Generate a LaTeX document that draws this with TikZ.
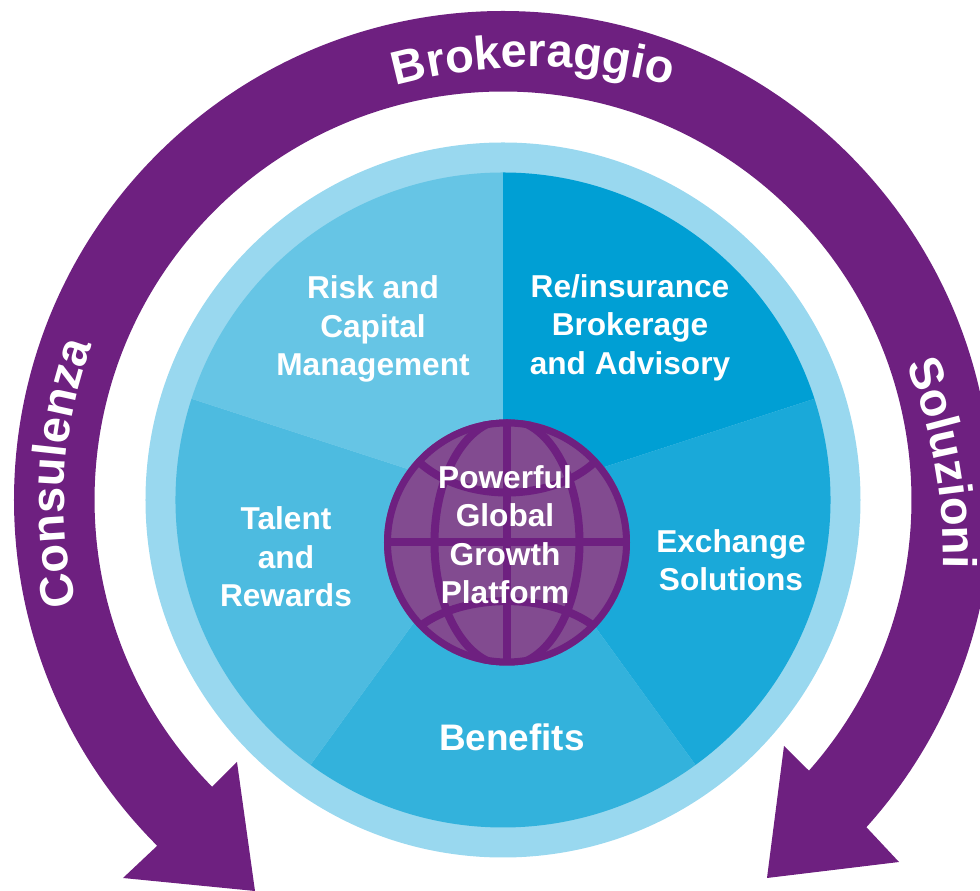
\documentclass[tikz,border=0pt]{standalone}
\usepackage{fontspec}
\setmainfont{Liberation Sans}
\usetikzlibrary{decorations.text}
\definecolor{archue}{HTML}{6E2080}
\definecolor{globehue}{HTML}{824B90}
\definecolor{ringhue}{HTML}{99D8EF}
\definecolor{bluea}{HTML}{009FD4}
\definecolor{blueb}{HTML}{1AA9D9}
\definecolor{bluec}{HTML}{33B2DC}
\definecolor{blued}{HTML}{4DBBE0}
\definecolor{bluee}{HTML}{66C5E5}
\tikzset{
  seglabel/.style={text=white,align=center,font=\bfseries\fontsize{18}{21.9}\selectfont},
  gridline/.style={archue,line width=0.16cm},
  bandtext/.style={decorate,decoration={text along path,text align=center,text={|\bfseries\fontsize{26.8}{30}\selectfont\color{white}|#1}}}
}
\begin{document}
\begin{tikzpicture}
\useasboundingbox (-10.06,-7.82) rectangle (9.54,10);
\clip (-10.06,-7.82) rectangle (9.54,10);
% outer arrow
\fill[archue] (225:9.78) arc[start angle=225,end angle=-42,radius=9.78]
  -- (7.92,-7.24) -- (5.28,-7.56) -- (5.62,-4.92)
  -- (-41.5:8.17) arc[start angle=-41.5,end angle=224.6,radius=8.17]
  -- (-5.32,-5.24) -- (-4.96,-7.82) -- (-7.6,-7.56) -- cycle;
\path[bandtext=Brokeraggio,shift={(0.6,-1.64)}] (107:10.3) arc[start angle=107,end angle=73,radius=10.3];
\path[bandtext=Consulenza] (198:8.78) arc[start angle=198,end angle=155,radius=8.78];
\path[bandtext=Soluzioni,shift={(-1.25,-1.1)}] (24.6:10.06) arc[start angle=24.6,end angle=-3.9,radius=10.06];
% pie
\fill[ringhue] (0,0) circle (7.15);
\foreach \a/\b/\c in {90/18/bluea,18/-54/blueb,-54/-126/bluec,-126/-198/blued,-198/-270/bluee}
  \fill[\c] (0,0) -- (\a:6.55) arc[start angle=\a,end angle=\b,radius=6.55] -- cycle;
% globe
\begin{scope}[shift={(0.08,-0.85)}]
  \fill[globehue] (0,0) circle (2.46);
  \begin{scope}
    \clip (0,0) circle (2.46);
    \draw[gridline] (-2.46,0) -- (2.46,0);
    \draw[gridline] (0,-2.46) -- (0,2.46);
    \draw[gridline] (0,0) ellipse (1.45 and 2.46);
    \draw[gridline] (-1.78,1.63) .. controls (-0.9,0.79) and (0.9,0.79) .. (1.78,1.63);
    \draw[gridline] (-1.72,-1.66) .. controls (-0.85,-1.01) and (0.85,-1.01) .. (1.72,-1.66);
  \end{scope}
  \draw[archue,line width=0.14cm] (0,0) circle (2.39);
\end{scope}
\node[seglabel] (risk) at (-2.6,3.42) {Risk and\\Capital\\Management};
\node[seglabel] (reins) at (2.54,3.45) {Re/insurance\\Brokerage\\and Advisory};
\node[seglabel] (exch) at (4.56,-1.2) {Exchange\\Solutions};
\node[seglabel,font=\bfseries\fontsize{21}{24}\selectfont] (bene) at (0.18,-4.74) {Benefits};
\node[seglabel] (talent) at (-4.34,-1.14) {Talent\\and\\Rewards};
\node[seglabel] (core) at (0.04,-0.69) {Powerful\\Global\\Growth\\Platform};
\end{tikzpicture}
\end{document}
